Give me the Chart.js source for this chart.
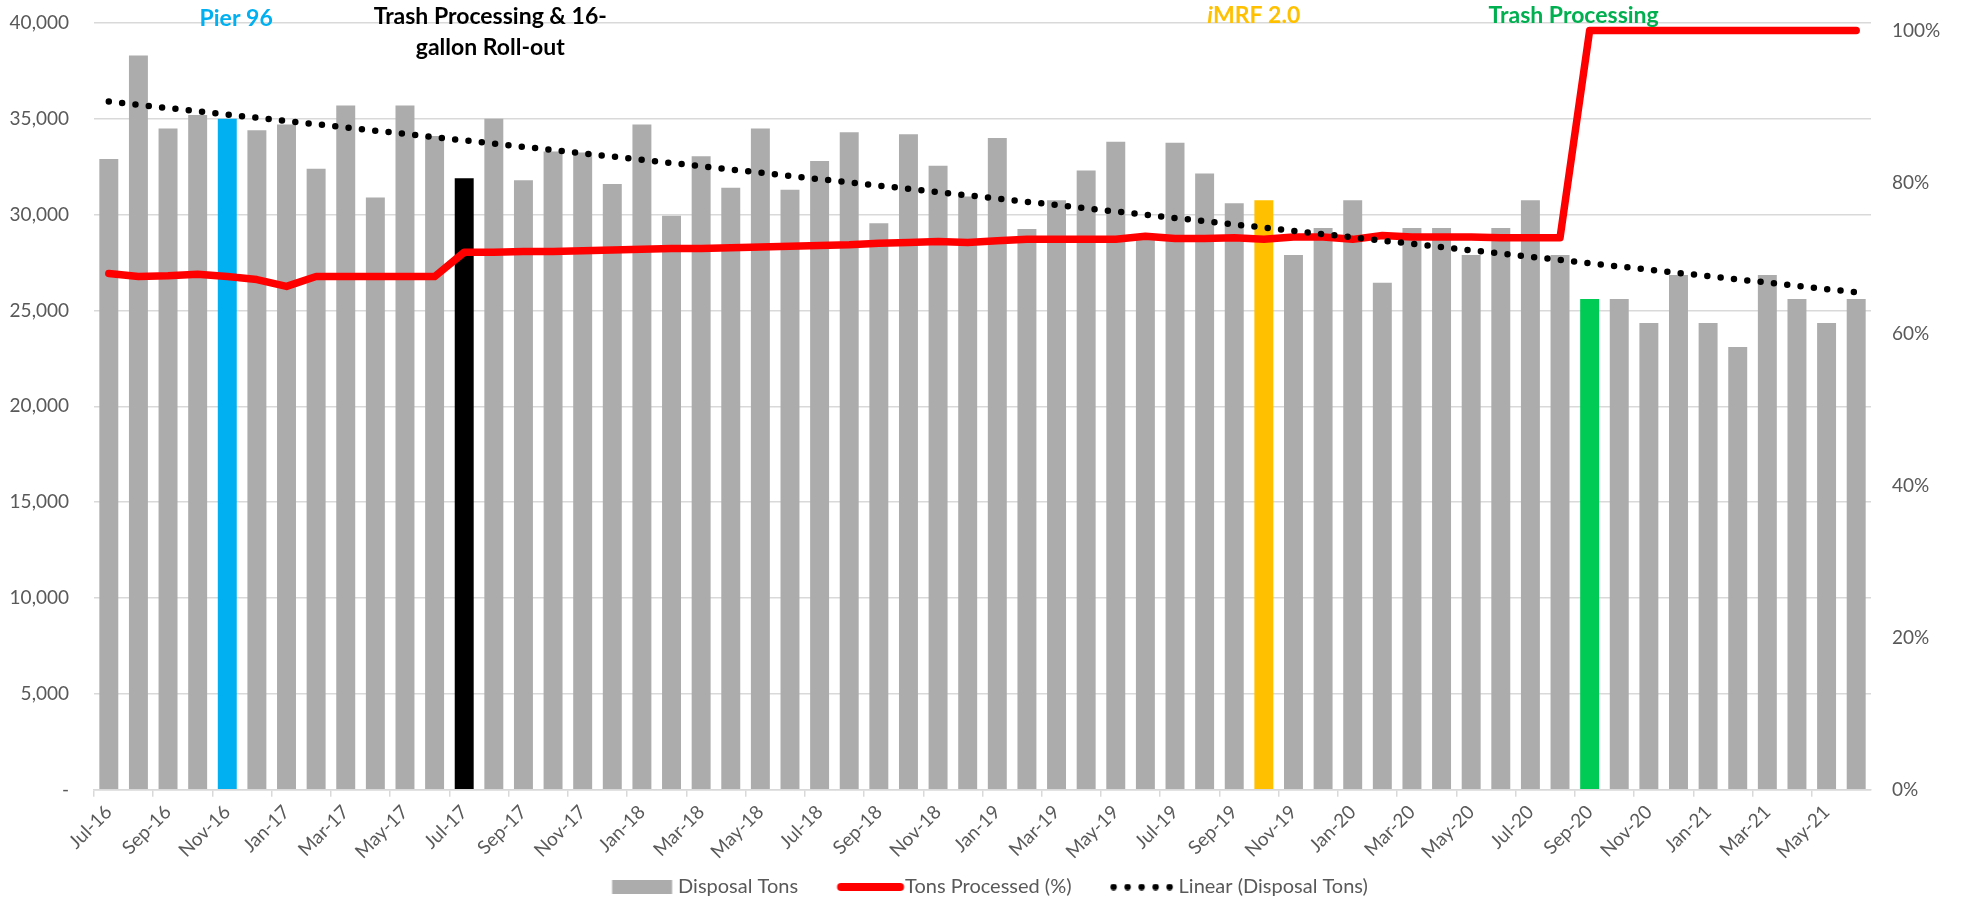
<!DOCTYPE html>
<html>
<head>
<meta charset="utf-8">
<title>Disposal Tons</title>
<script src="https://cdn.jsdelivr.net/npm/chart.js@4.4.1/dist/chart.umd.min.js"></script>
<style>
  body { margin: 0; background: #fff; }
  #wrap { width: 1961px; height: 901px; position: relative; }
</style>
</head>
<body>
<div id="wrap"><canvas id="tonsChart"></canvas></div>
<script>
// data
const months = [
  "Jul-16", "Aug-16", "Sep-16", "Oct-16", "Nov-16", "Dec-16", "Jan-17", "Feb-17", "Mar-17", "Apr-17", "May-17", "Jun-17",
  "Jul-17", "Aug-17", "Sep-17", "Oct-17", "Nov-17", "Dec-17", "Jan-18", "Feb-18", "Mar-18", "Apr-18", "May-18", "Jun-18",
  "Jul-18", "Aug-18", "Sep-18", "Oct-18", "Nov-18", "Dec-18", "Jan-19", "Feb-19", "Mar-19", "Apr-19", "May-19", "Jun-19",
  "Jul-19", "Aug-19", "Sep-19", "Oct-19", "Nov-19", "Dec-19", "Jan-20", "Feb-20", "Mar-20", "Apr-20", "May-20", "Jun-20",
  "Jul-20", "Aug-20", "Sep-20", "Oct-20", "Nov-20", "Dec-20", "Jan-21", "Feb-21", "Mar-21", "Apr-21", "May-21", "Jun-21"
];
const disposalTons = [
  32900, 38300, 34500, 35200, 35000, 34400, 34700, 32400, 35700, 30900, 35700, 34100,
  31900, 35000, 31800, 33300, 33250, 31600, 34700, 29950, 33050, 31400, 34500, 31300,
  32800, 34300, 29550, 34200, 32550, 30950, 34000, 29250, 30750, 32300, 33800, 28800,
  33750, 32150, 30600, 30750, 27900, 29300, 30750, 26450, 29300, 29300, 27900, 29300,
  30750, 27900, 25600, 25600, 24350, 26850, 24350, 23100, 26850, 25600, 24350, 25600
];
const tonsProcessed = [
  68.0, 67.6, 67.7, 67.9, 67.6, 67.2, 66.3, 67.6, 67.6, 67.6, 67.6, 67.6,
  70.8, 70.8, 70.9, 70.9, 71.0, 71.1, 71.2, 71.3, 71.3, 71.4, 71.5, 71.6,
  71.7, 71.8, 72.0, 72.1, 72.2, 72.1, 72.3, 72.5, 72.5, 72.5, 72.5, 72.9,
  72.6, 72.6, 72.7, 72.5, 72.8, 72.8, 72.5, 73.0, 72.8, 72.8, 72.8, 72.7,
  72.7, 72.7, 100, 100, 100, 100, 100, 100, 100, 100, 100, 100
];
// linear trend (Disposal Tons), first and last month
const trendStart = 35900;
const trendEnd = 25950;

const leftTicks = [0, 5000, 10000, 15000, 20000, 25000, 30000, 35000, 40000];
const rightTicks = [0, 20, 40, 60, 80, 100];

const noteMonths = ["Nov-16", "Jul-17", "Oct-19", "Sep-20"];
const noteTexts = [["Pier 96"], ["Trash Processing & 16-", "gallon Roll-out"], ["iMRF 2.0"], ["Trash Processing"]];

// styles
const barGray = '#ADACAC';
const noteTextColors = ['#00B0F0', '#000000', '#FFC000', '#00B050'];
const noteBarColors = ['#00B0F0', '#000000', '#FFC000', '#00CC55'];
const noteShift = [0.3, 0.88, -0.34, -0.54];
const noteBaselines = [[26], [24, 55], [23], [23]];
const noteItalicLead = [false, false, true, false];
const noteFont = '23px Lato';
const axisGray = '#595959';
const gridGray = '#D9D9D9';

Chart.defaults.font.family = 'Lato';
Chart.defaults.font.size = 19;
Chart.defaults.color = axisGray;

const barColors = months.map(m => {
  const k = noteMonths.indexOf(m);
  return k >= 0 ? noteBarColors[k] : barGray;
});
const trendData = months.map((m, i) => i === 0 ? trendStart : (i === months.length - 1 ? trendEnd : null));

// legend markers: canvas 120 wide, drawn centred on a 95 px box, so canvas x 0 = item x - 12.5
function markCanvas(h, draw) {
  const c = document.createElement('canvas');
  c.width = 120;
  c.height = h;
  draw(c.getContext('2d'));
  return c;
}
const legendMarks = [
  markCanvas(14, g => { g.fillStyle = barGray; g.fillRect(51.5, 0, 60, 14); }),
  markCanvas(8, g => {
    g.strokeStyle = '#FF0000'; g.lineWidth = 8; g.lineCap = 'round';
    g.beginPath(); g.moveTo(53.5, 4); g.lineTo(112.5, 4); g.stroke();
  }),
  markCanvas(7, g => {
    g.fillStyle = '#000';
    for (let k = 0; k < 5; k++) { g.beginPath(); g.arc(52.5 + k * 14, 3.5, 3.2, 0, Math.PI * 2); g.fill(); }
  })
];

const notesPlugin = {
  id: 'notes',
  afterDraw(chart) {
    const ctx = chart.ctx;
    const x = chart.scales.x;
    ctx.save();
    ctx.textBaseline = 'alphabetic';
    noteMonths.forEach((m, k) => {
      const cx = x.getPixelForValue(months.indexOf(m) + noteShift[k]);
      ctx.fillStyle = noteTextColors[k];
      noteTexts[k].forEach((line, j) => {
        const y = noteBaselines[k][j];
        if (noteItalicLead[k]) {
          ctx.font = 'italic bold ' + noteFont;
          const lead = line.charAt(0);
          const w1 = ctx.measureText(lead).width;
          ctx.font = 'bold ' + noteFont;
          const rest = line.slice(1);
          const w2 = ctx.measureText(rest).width;
          const left = cx - (w1 + w2) / 2;
          ctx.textAlign = 'left';
          ctx.font = 'italic bold ' + noteFont;
          ctx.fillText(lead, left, y);
          ctx.font = 'bold ' + noteFont;
          ctx.fillText(rest, left + w1, y);
        } else {
          ctx.font = 'bold ' + noteFont;
          ctx.textAlign = 'center';
          ctx.fillText(line, cx, y);
        }
      });
    });
    ctx.restore();
  }
};

const ctx = document.getElementById('tonsChart').getContext('2d');
new Chart(ctx, {
  data: {
    labels: months,
    datasets: [{
      type: 'bar',
      label: 'Disposal Tons',
      data: disposalTons,
      backgroundColor: barColors,
      barPercentage: 0.64,
      categoryPercentage: 1,
      yAxisID: 'y',
      order: 3
    }, {
      type: 'line',
      label: 'Tons Processed (%)',
      data: tonsProcessed,
      borderColor: '#FF0000',
      backgroundColor: '#FF0000',
      borderWidth: 7.5,
      borderJoinStyle: 'round',
      borderCapStyle: 'round',
      pointRadius: 0,
      tension: 0,
      fill: false,
      yAxisID: 'y1',
      order: 2
    }, {
      type: 'line',
      label: 'Linear (Disposal Tons)',
      data: trendData,
      borderColor: '#000',
      backgroundColor: '#000',
      borderWidth: 6.5,
      borderDash: [0, 13.4],
      borderCapStyle: 'round',
      pointRadius: 0,
      spanGaps: true,
      fill: false,
      yAxisID: 'y',
      order: 1
    }]
  },
  options: {
    responsive: true,
    maintainAspectRatio: false,
    animation: false,
    layout: { padding: { top: 23, left: 0, right: 20, bottom: 0 } },
    plugins: {
      tooltip: { enabled: false },
      legend: {
        position: 'bottom',
        maxHeight: 26,
        labels: {
          usePointStyle: true,
          pointStyleWidth: 95,
          padding: 2,
          color: axisGray,
          font: { size: 20 },
          sort: (a, b) => a.datasetIndex - b.datasetIndex,
          generateLabels(chart) {
            const items = Chart.defaults.plugins.legend.labels.generateLabels(chart);
            items.forEach(it => { it.pointStyle = legendMarks[it.datasetIndex]; });
            return items;
          }
        }
      }
    },
    scales: {
      x: {
        offset: true,
        grid: {
          offset: true,
          drawOnChartArea: false,
          drawTicks: true,
          tickLength: 7,
          lineWidth: 1.5,
          color: c => (c.index % 2 === 0 ? gridGray : 'rgba(0,0,0,0)')
        },
        border: { display: true, color: gridGray, width: 1.5 },
        ticks: {
          autoSkip: false,
          minRotation: 45,
          maxRotation: 45,
          padding: 4,
          color: axisGray,
          callback: function (v, i) { return i % 2 === 0 ? this.getLabelForValue(v) : ''; }
        },
        afterFit: s => { s.height = 85.3; }
      },
      y: {
        position: 'left',
        min: 0,
        max: 40000,
        grid: { color: gridGray, lineWidth: 1.5, drawTicks: true, tickLength: 25, tickColor: 'rgba(0,0,0,0)' },
        border: { display: false },
        ticks: {
          padding: 0,
          color: axisGray,
          callback: v => (v === 0 ? '-' : v.toLocaleString('en-US'))
        },
        afterBuildTicks: s => { s.ticks = leftTicks.map(v => ({ value: v })); },
        afterFit: s => { s.width = 94; }
      },
      y1: {
        position: 'right',
        min: 0,
        max: 101,
        grid: { drawOnChartArea: false, drawTicks: true, tickLength: 21, tickColor: 'rgba(0,0,0,0)' },
        border: { display: false },
        ticks: {
          padding: 0,
          color: axisGray,
          callback: v => v + '%'
        },
        afterBuildTicks: s => { s.ticks = rightTicks.map(v => ({ value: v })); },
        afterFit: s => { s.width = 70; }
      }
    }
  },
  plugins: [notesPlugin]
});
</script>
</body>
</html>
